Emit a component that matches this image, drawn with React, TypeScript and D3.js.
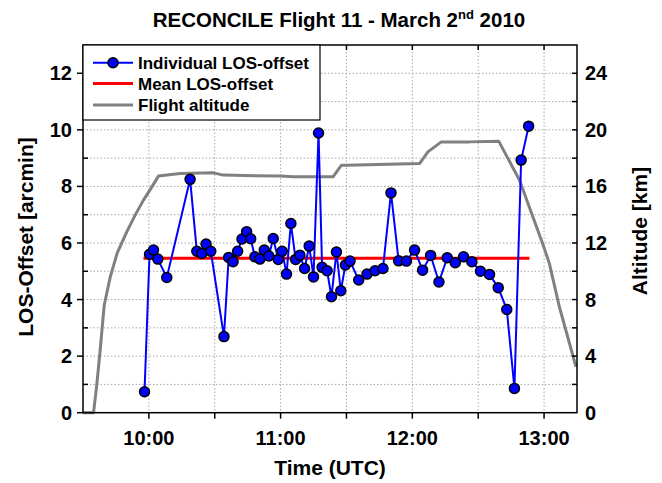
import React from "react";
import * as d3 from "d3";

// ---- data (times in decimal hours UTC) ----
const losTimes = [
  9.967, 10.005, 10.035, 10.068, 10.136, 10.313, 10.364, 10.402, 10.434, 10.47,
  10.57, 10.606, 10.639, 10.674, 10.707, 10.742, 10.773, 10.805, 10.843, 10.876,
  10.911, 10.944, 10.982, 11.012, 11.045, 11.078, 11.114, 11.146, 11.182, 11.217,
  11.25, 11.288, 11.315, 11.353, 11.386, 11.424, 11.457, 11.492, 11.527, 11.593,
  11.656, 11.717, 11.777, 11.838, 11.896, 11.955, 12.017, 12.078, 12.139, 12.202,
  12.265, 12.326, 12.389, 12.452, 12.517, 12.586, 12.652, 12.717, 12.775, 12.826,
  12.883,
];
const losValues = [
  0.74, 5.6, 5.75, 5.43, 4.78, 8.25, 5.71, 5.63, 5.96, 5.71,
  2.69, 5.49, 5.34, 5.71, 6.14, 6.4, 6.15, 5.51, 5.43, 5.75,
  5.54, 6.16, 5.42, 5.71, 4.9, 6.69, 5.42, 5.57, 5.1, 5.89,
  4.8, 9.89, 5.14, 5.02, 4.1, 5.68, 4.31, 5.22, 5.36, 4.69,
  4.9, 5.02, 5.1, 7.77, 5.37, 5.36, 5.75, 5.04, 5.56, 4.62,
  5.48, 5.3, 5.51, 5.34, 5.0, 4.89, 4.42, 3.65, 0.86, 8.93,
  10.13,
];
const meanLOS = 5.46;
const meanStart = 9.959;
const meanEnd = 12.889;

const altTimes = [
  9.5, 9.58, 9.605, 9.631, 9.661, 9.707, 9.76, 9.833, 9.896, 9.959, 10.023,
  10.073, 10.237, 10.489, 10.565, 10.995, 11.095, 11.398, 11.462, 11.5, 12.055,
  12.118, 12.22, 12.434, 12.656, 12.813, 12.989, 13.04, 13.116, 13.242,
];
const altValues = [
  0, 0, 2.0, 4.5, 7.6, 9.6, 11.3, 12.8, 13.97, 15.03, 15.97,
  16.73, 16.92, 16.96, 16.8, 16.73, 16.68, 16.68, 17.5, 17.5, 17.62,
  18.44, 19.15, 19.15, 19.2, 16.45, 11.97, 10.56, 7.49, 3.25,
];

const timeTicks = [10, 10.5, 11, 11.5, 12, 12.5, 13];
const timeLabels = ["10:00", "11:00", "12:00", "13:00"];
const losTicks = [0, 2, 4, 6, 8, 10, 12];
const altTicks = [0, 4, 8, 12, 16, 20, 24];

const title = "RECONCILE Flight 11 - March 2";
const legendLabels = ["Individual LOS-offset", "Mean LOS-offset", "Flight altitude"];

const FONT = "'Liberation Sans', Arial, Helvetica, sans-serif";

export default function App() {
  const W = 662, H = 483;
  const L = 83, R = 577, T = 45, B = 412.7;
  const x = d3.scaleLinear().domain([9.5, 13.25]).range([L, R]);
  const y = d3.scaleLinear().domain([0, 13]).range([B, T]);
  const y2 = d3.scaleLinear().domain([0, 26]).range([B, T]);

  const losLine = d3.line<number>().x((_, i) => x(losTimes[i])).y((v) => y(v));
  const altLine = d3.line<number>().x((_, i) => x(altTimes[i])).y((v) => y2(v));

  const gridY = d3.range(1, 13);
  const minorY = d3.range(1, 13, 2);
  const rightTicks = d3.range(2, 26, 2);

  return (
    <svg width={W} height={H} style={{ position: "absolute", left: 0, top: 0, background: "#fff" }} fontFamily={FONT}>
      <rect x={0} y={0} width={W} height={H} fill="#fff" />
      {/* grid */}
      <g stroke="#a8a8a8" strokeWidth={1} strokeDasharray="1.5 2">
        {timeTicks.map((t) => (
          <line key={"gx" + t} x1={x(t)} x2={x(t)} y1={T} y2={B} />
        ))}
        {gridY.map((v) => (
          <line key={"gy" + v} x1={L} x2={R} y1={y(v)} y2={y(v)} />
        ))}
      </g>

      {/* altitude */}
      <path d={altLine(altValues) || ""} fill="none" stroke="#808080" strokeWidth={3} strokeLinejoin="round" />
      {/* mean */}
      <line x1={x(meanStart)} x2={x(meanEnd)} y1={y(meanLOS)} y2={y(meanLOS)} stroke="#ff0000" strokeWidth={3} />
      {/* LOS */}
      <path d={losLine(losValues) || ""} fill="none" stroke="#0000ff" strokeWidth={2} strokeLinejoin="round" />
      {losValues.map((v, i) => (
        <circle key={"p" + i} cx={x(losTimes[i])} cy={y(v)} r={5} fill="#0000ff" stroke="#000" strokeWidth={1.5} />
      ))}

      {/* frame */}
      <rect x={L} y={T} width={R - L} height={B - T} fill="none" stroke="#000" strokeWidth={1.5} />

      {/* ticks */}
      <g stroke="#000" strokeWidth={1.5}>
        {timeTicks.map((t) => (
          <g key={"tt" + t}>
            <line x1={x(t)} x2={x(t)} y1={B} y2={B + 6} />
            <line x1={x(t)} x2={x(t)} y1={T} y2={T + 5} />
          </g>
        ))}
        {losTicks.map((v) => (
          <line key={"lt" + v} x1={L - 6} x2={L} y1={y(v)} y2={y(v)} />
        ))}
        {minorY.map((v) => (
          <line key={"lm" + v} x1={L} x2={L + 5} y1={y(v)} y2={y(v)} />
        ))}
        {rightTicks.map((v) => (
          <line key={"rt" + v} x1={R - 5} x2={R} y1={y2(v)} y2={y2(v)} />
        ))}
      </g>

      {/* tick labels */}
      <g fontWeight="bold" fontSize={20} fill="#000">
        {timeLabels.map((s, i) => (
          <text key={s} x={x(10 + i)} y={445} textAnchor="middle">{s}</text>
        ))}
        {losTicks.map((v) => (
          <text key={"ll" + v} x={72} y={y(v) + 7} textAnchor="end">{v}</text>
        ))}
        {altTicks.map((v) => (
          <text key={"al" + v} x={585} y={y2(v) + 7} textAnchor="start">{v}</text>
        ))}
      </g>

      {/* axis titles */}
      <text x={330} y={475} textAnchor="middle" fontWeight="bold" fontSize={21}>Time (UTC)</text>
      <text transform={`translate(33,237) rotate(-90)`} textAnchor="middle" fontWeight="bold" fontSize={21}>LOS-Offset [arcmin]</text>
      <text transform={`translate(647,231) rotate(-90)`} textAnchor="middle" fontWeight="bold" fontSize={21}>Altitude [km]</text>

      {/* title */}
      <text x={339} y={27} textAnchor="middle" fontWeight="bold" fontSize={20.5}>
        {title}
        <tspan fontSize={13} dy={-8}>nd</tspan>
        <tspan dy={8}> 2010</tspan>
      </text>

      {/* legend */}
      <rect x={L} y={T} width={237} height={75} fill="#fff" stroke="#000" strokeWidth={1.2} />
      {legendLabels.map((s, i) => {
        const cy = [62.7, 83.5, 105][i];
        const col = ["#0000ff", "#ff0000", "#808080"][i];
        const sw = [2, 3, 3][i];
        return (
          <g key={s}>
            <line x1={93} x2={133} y1={cy} y2={cy} stroke={col} strokeWidth={sw} />
            {i === 0 && <circle cx={113} cy={cy} r={5} fill="#0000ff" stroke="#000" strokeWidth={1.5} />}
            <text x={138} y={cy + 6} fontWeight="bold" fontSize={17}>{s}</text>
          </g>
        );
      })}
    </svg>
  );
}
